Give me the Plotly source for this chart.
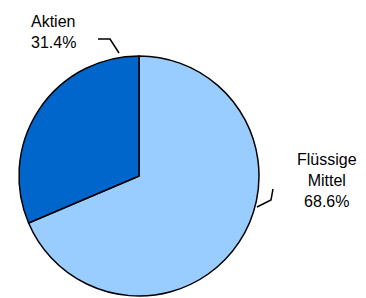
import plotly.graph_objects as go

labels = ["Flüssige Mittel", "Aktien"]
values = [68.6, 31.4]
colors = ["#99CCFF", "#0066CC"]
label_text = ["Flüssige<br>Mittel<br>68.6%", "Aktien<br>31.4%"]

W, H = 366, 298
cx, cy, r = 139, 176, 120

fig = go.Figure()
fig.add_trace(go.Pie(
    labels=labels, values=values, sort=False, direction="clockwise",
    rotation=0, textinfo="none", hoverinfo="label+percent",
    marker=dict(colors=colors, line=dict(color="black", width=1.5)),
    domain=dict(x=[(cx - r) / W, (cx + r) / W], y=[(H - cy - r) / H, (H - cy + r) / H]),
    showlegend=False,
))

# hidden pixel-space axes for labels and leader lines
fig.add_trace(go.Scatter(x=[0, W], y=[0, H], mode="markers", marker=dict(opacity=0),
                         hoverinfo="skip", showlegend=False))
fig.update_xaxes(range=[0, W], visible=False, fixedrange=True)
fig.update_yaxes(range=[H, 0], visible=False, fixedrange=True)

font = dict(family="Liberation Sans, Arial, sans-serif", size=16, color="black")
fig.add_annotation(x=29, y=32, text=label_text[1], showarrow=False, xanchor="left",
                   yanchor="middle", align="left", font=font)
fig.add_annotation(x=327, y=180, text=label_text[0], showarrow=False, xanchor="center",
                   yanchor="middle", align="center", font=font)

line = dict(color="black", width=1.5)
fig.add_shape(type="path", path="M 98 39 L 110 39 L 119 53", line=line)
fig.add_shape(type="path", path="M 257 207 L 271 200 L 273 189", line=line)

fig.update_layout(width=W, height=H, margin=dict(l=0, r=0, t=0, b=0),
                  paper_bgcolor="white", plot_bgcolor="white")
fig.write_html("out.html", config={"displayModeBar": False},
               post_script="document.body.style.margin='0px';")
